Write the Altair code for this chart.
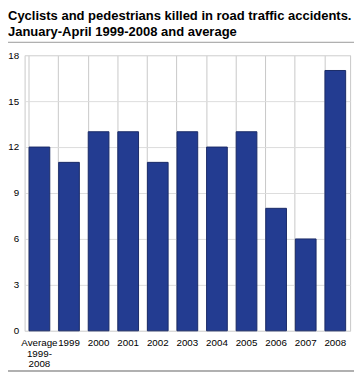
import altair as alt
import pandas as pd

categories = ["Average 1999-2008", "1999", "2000", "2001", "2002", "2003", "2004", "2005", "2006", "2007", "2008"]
labels = ["Average|1999-|2008", "1999", "2000", "2001", "2002", "2003", "2004", "2005", "2006", "2007", "2008"]
values = [12, 11, 13, 13, 11, 13, 12, 13, 8, 6, 17]
y_ticks = [0, 3, 6, 9, 12, 15, 18]

df = pd.DataFrame({"cat": labels, "value": values})

FONT = "Liberation Sans"

bars = alt.Chart(df).mark_bar(
    color="#233c91", stroke="#1a2a66", strokeWidth=1
).encode(
    x=alt.X("cat:N", sort=labels, title=None,
            scale=alt.Scale(paddingInner=0.3, paddingOuter=0.15),
            axis=alt.Axis(labelAngle=0, labelExpr="split(datum.label, '|')",
                          labelFont=FONT, labelFontSize=10, labelColor="#000000",
                          labelPadding=7, ticks=False, domain=False,
                          grid=True, gridColor="#c8c8c8", bandPosition=0,
                          labelLineHeight=11)),
    y=alt.Y("value:Q", title=None,
            scale=alt.Scale(domain=[0, 18], nice=False),
            axis=alt.Axis(values=y_ticks, labelFont=FONT, labelFontSize=10,
                          labelColor="#000000", labelPadding=6, ticks=False,
                          domain=False, gridColor="#dcdcdc")),
)

top_line = alt.Chart(df).mark_rule(color="#b0b0b0", strokeWidth=1, clip=False).encode(
    x=alt.value(-17), x2=alt.value(337), y=alt.value(-13)
)
bottom_line = alt.Chart(df).mark_rule(color="#b0b0b0", strokeWidth=1, clip=False).encode(
    x=alt.value(-17), x2=alt.value(337), y=alt.value(323)
)

chart = alt.layer(bars, top_line, bottom_line).properties(
    width=333, height=282,
    padding={"left": 17, "top": 44, "right": 4, "bottom": 44},
    autosize=alt.AutoSizeParams(type="none"),
    title=alt.Title(
        ["Cyclists and pedestrians killed in road traffic accidents.",
         "January-April 1999-2008 and average"],
        anchor="start", frame="group", font=FONT, fontSize=13.3, fontWeight="bold",
        color="#000000", offset=4, dx=-17, lineHeight=16,
    ),
).configure_view(stroke="#c8c8c8", strokeWidth=1)

chart.save("out.html", embed_options={"renderer": "svg", "actions": False})
